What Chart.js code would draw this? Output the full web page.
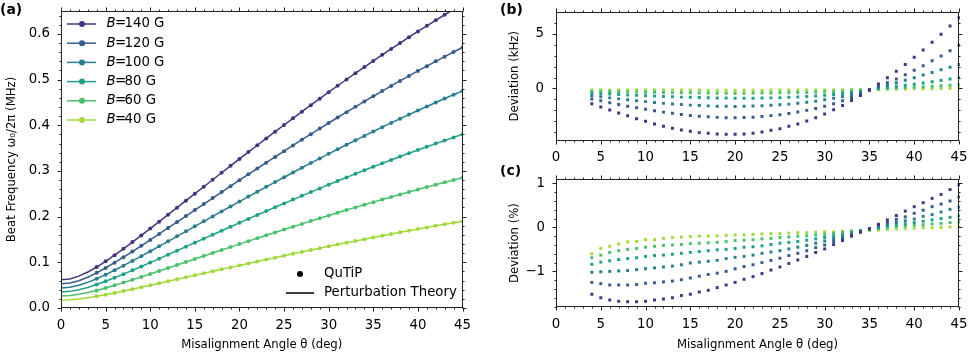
<!DOCTYPE html>
<html>
<head>
<meta charset="utf-8">
<script src="https://cdn.jsdelivr.net/npm/chart.js@4.4.1/dist/chart.umd.min.js"></script>
<style>
  body { margin: 0; background: #fff; width: 969px; height: 354px; position: relative; overflow: hidden; }
  canvas { position: absolute; }
  #chartA { left: 0; top: 0; }
  #chartB { left: 490px; top: 0; }
  #chartC { left: 490px; top: 165px; }
</style>
</head>
<body>
<canvas id="chartA" width="475" height="354"></canvas>
<canvas id="chartB" width="479" height="165"></canvas>
<canvas id="chartC" width="479" height="189"></canvas>
<script>
// field strengths (G), one series each
const fields = [140, 120, 100, 80, 60, 40];
const colors = ['#46337f', '#365c8d', '#277f8e', '#1fa187', '#4ac16d', '#a0da39'];

// angle grid for perturbation theory curves (deg)
const angles = [0,1,2,3,4,5,6,7,8,9,10,11,12,13,14,15,16,17,18,19,20,21,22,23,24,25,26,27,28,29,30,31,32,33,34,35,36,37,38,39,40,41,42,43,44,45];
// angles of the QuTiP points (deg)
const simAngles = [4,5,6,7,8,9,10,11,12,13,14,15,16,17,18,19,20,21,22,23,24,25,26,27,28,29,30,31,32,33,34,35,36,37,38,39,40,41,42,43,44,45];

// beat frequency (MHz), perturbation theory, 0..45 deg
const theory140 = [0.0616,0.0637,0.0697,0.0787,0.0897,0.1022,0.1156,0.1296,0.1442,0.1589,
  0.1739,0.1890,0.2043,0.2195,0.2348,0.2502,0.2654,0.2807,0.2960,0.3111,
  0.3262,0.3413,0.3562,0.3711,0.3858,0.4005,0.4152,0.4297,0.4439,0.4582,
  0.4724,0.4864,0.5001,0.5138,0.5274,0.5407,0.5540,0.5670,0.5799,0.5926,
  0.6052,0.6175,0.6297,0.6418,0.6535,0.6651];
const theory120 = [0.0528,0.0546,0.0598,0.0674,0.0769,0.0876,0.0991,0.1111,0.1236,0.1362,
  0.1490,0.1620,0.1751,0.1882,0.2012,0.2144,0.2275,0.2406,0.2537,0.2666,
  0.2796,0.2926,0.3053,0.3181,0.3307,0.3433,0.3559,0.3683,0.3805,0.3928,
  0.4049,0.4169,0.4286,0.4404,0.4520,0.4634,0.4748,0.4860,0.4970,0.5080,
  0.5188,0.5293,0.5398,0.5501,0.5602,0.5701];
const theory100 = [0.0440,0.0455,0.0498,0.0562,0.0641,0.0730,0.0826,0.0926,0.1030,0.1135,
  0.1242,0.1350,0.1459,0.1568,0.1677,0.1787,0.1896,0.2005,0.2114,0.2222,
  0.2330,0.2438,0.2544,0.2651,0.2756,0.2861,0.2966,0.3069,0.3171,0.3273,
  0.3374,0.3474,0.3572,0.3670,0.3767,0.3862,0.3957,0.4050,0.4142,0.4233,
  0.4323,0.4411,0.4498,0.4584,0.4668,0.4751];
const theory80 = [0.0352,0.0364,0.0398,0.0450,0.0513,0.0584,0.0661,0.0741,0.0824,0.0908,
  0.0994,0.1080,0.1167,0.1254,0.1342,0.1430,0.1517,0.1604,0.1691,0.1778,
  0.1864,0.1950,0.2035,0.2121,0.2205,0.2289,0.2373,0.2455,0.2537,0.2618,
  0.2699,0.2779,0.2858,0.2936,0.3014,0.3090,0.3166,0.3240,0.3314,0.3386,
  0.3458,0.3529,0.3598,0.3667,0.3734,0.3801];
const theory60 = [0.0264,0.0273,0.0299,0.0337,0.0385,0.0438,0.0496,0.0556,0.0618,0.0681,
  0.0745,0.0810,0.0875,0.0941,0.1006,0.1072,0.1138,0.1203,0.1268,0.1333,
  0.1398,0.1463,0.1526,0.1591,0.1654,0.1717,0.1780,0.1841,0.1903,0.1964,
  0.2024,0.2084,0.2143,0.2202,0.2260,0.2317,0.2374,0.2430,0.2485,0.2540,
  0.2594,0.2647,0.2699,0.2750,0.2801,0.2851];
const theory40 = [0.0176,0.0182,0.0199,0.0225,0.0256,0.0292,0.0330,0.0370,0.0412,0.0454,
  0.0497,0.0540,0.0584,0.0627,0.0671,0.0715,0.0758,0.0802,0.0846,0.0889,
  0.0932,0.0975,0.1018,0.1060,0.1102,0.1144,0.1186,0.1228,0.1268,0.1309,
  0.1350,0.1390,0.1429,0.1468,0.1507,0.1545,0.1583,0.1620,0.1657,0.1693,
  0.1729,0.1764,0.1799,0.1834,0.1867,0.1900];

// deviation QuTiP vs theory (kHz), 4..45 deg
const devKHz140 = [-1.39,-1.70,-1.97,-2.24,-2.50,-2.76,
  -3.00,-3.24,-3.45,-3.64,-3.79,-3.91,-4.03,-4.09,-4.15,-4.18,
  -4.18,-4.15,-4.09,-3.97,-3.82,-3.67,-3.45,-3.24,-2.97,-2.67,
  -2.33,-1.94,-1.55,-1.09,-0.64,-0.12,0.42,0.97,1.58,2.18,
  2.85,3.52,4.21,4.94,5.70,6.45];
const devKHz120 = [-0.96,-1.13,-1.30,-1.46,-1.62,-1.76,
  -1.90,-2.03,-2.16,-2.27,-2.37,-2.46,-2.53,-2.59,-2.64,-2.67,
  -2.68,-2.66,-2.62,-2.56,-2.48,-2.39,-2.28,-2.15,-2.00,-1.82,
  -1.62,-1.39,-1.12,-0.82,-0.50,-0.16,0.20,0.52,0.87,1.25,
  1.66,2.08,2.52,2.97,3.44,3.95];
const devKHz100 = [-0.66,-0.76,-0.86,-0.95,-1.04,-1.12,
  -1.20,-1.28,-1.35,-1.41,-1.47,-1.52,-1.56,-1.59,-1.62,-1.63,
  -1.64,-1.63,-1.61,-1.58,-1.54,-1.49,-1.43,-1.35,-1.26,-1.16,
  -1.04,-0.90,-0.74,-0.56,-0.36,-0.14,0.08,0.30,0.52,0.75,
  0.98,1.22,1.46,1.70,1.94,2.19];
const devKHz80 = [-0.43,-0.47,-0.51,-0.55,-0.59,-0.63,
  -0.66,-0.70,-0.73,-0.76,-0.79,-0.81,-0.83,-0.85,-0.87,-0.88,
  -0.89,-0.89,-0.89,-0.88,-0.86,-0.84,-0.81,-0.78,-0.74,-0.69,
  -0.63,-0.55,-0.46,-0.36,-0.25,-0.13,-0.01,0.10,0.20,0.29,
  0.39,0.49,0.61,0.73,0.86,0.99];
const devKHz60 = [-0.27,-0.28,-0.28,-0.29,-0.31,-0.33,
  -0.34,-0.35,-0.36,-0.38,-0.39,-0.40,-0.41,-0.42,-0.43,-0.43,
  -0.43,-0.43,-0.42,-0.42,-0.41,-0.40,-0.39,-0.37,-0.36,-0.34,
  -0.32,-0.29,-0.24,-0.20,-0.16,-0.10,-0.05,-0.01,0.04,0.08,
  0.12,0.16,0.21,0.25,0.30,0.35];
const devKHz40 = [-0.15,-0.14,-0.14,-0.14,-0.14,-0.15,
  -0.15,-0.15,-0.15,-0.15,-0.15,-0.15,-0.15,-0.16,-0.16,-0.16,
  -0.16,-0.16,-0.16,-0.16,-0.15,-0.15,-0.15,-0.15,-0.15,-0.14,
  -0.14,-0.14,-0.13,-0.12,-0.12,-0.11,-0.09,-0.08,-0.07,-0.05,
  -0.03,-0.02,-0.02,0.00,0.02,0.04];

// relative deviation (%), 4..45 deg
const devPct140 = [-1.52,-1.60,-1.65,-1.68,-1.69,-1.69,
  -1.68,-1.65,-1.63,-1.60,-1.55,-1.52,-1.47,-1.43,-1.37,-1.31,
  -1.25,-1.18,-1.12,-1.05,-0.97,-0.90,-0.82,-0.74,-0.66,-0.57,
  -0.49,-0.39,-0.30,-0.20,-0.11,-0.03,0.07,0.17,0.27,0.37,
  0.47,0.56,0.66,0.75,0.86,0.97];
const devPct120 = [-1.25,-1.28,-1.31,-1.31,-1.31,-1.30,
  -1.27,-1.26,-1.24,-1.22,-1.19,-1.15,-1.11,-1.07,-1.04,-1.00,
  -0.94,-0.89,-0.85,-0.80,-0.75,-0.70,-0.64,-0.59,-0.53,-0.46,
  -0.40,-0.32,-0.26,-0.18,-0.10,-0.03,0.05,0.11,0.18,0.24,
  0.32,0.39,0.47,0.53,0.60,0.69];
const devPct100 = [-1.02,-1.01,-1.00,-0.99,-0.98,-0.96,
  -0.94,-0.92,-0.90,-0.88,-0.85,-0.81,-0.79,-0.77,-0.75,-0.71,
  -0.68,-0.66,-0.63,-0.59,-0.56,-0.53,-0.49,-0.45,-0.41,-0.36,
  -0.31,-0.26,-0.21,-0.15,-0.09,-0.04,0.02,0.07,0.11,0.15,
  0.19,0.25,0.29,0.35,0.41,0.46];
const devPct80 = [-0.84,-0.79,-0.76,-0.73,-0.71,-0.69,
  -0.66,-0.64,-0.63,-0.61,-0.59,-0.57,-0.55,-0.53,-0.51,-0.50,
  -0.48,-0.45,-0.44,-0.42,-0.39,-0.36,-0.34,-0.32,-0.29,-0.26,
  -0.23,-0.20,-0.16,-0.12,-0.08,-0.04,-0.01,0.03,0.06,0.08,
  0.11,0.14,0.17,0.20,0.23,0.26];
const devPct60 = [-0.69,-0.63,-0.57,-0.53,-0.50,-0.48,
  -0.45,-0.43,-0.41,-0.40,-0.39,-0.37,-0.36,-0.35,-0.34,-0.32,
  -0.30,-0.29,-0.28,-0.26,-0.25,-0.23,-0.22,-0.20,-0.19,-0.17,
  -0.16,-0.14,-0.11,-0.09,-0.07,-0.04,-0.03,0.00,0.02,0.03,
  0.05,0.06,0.08,0.09,0.11,0.12];
const devPct40 = [-0.60,-0.48,-0.43,-0.38,-0.33,-0.32,
  -0.28,-0.28,-0.25,-0.23,-0.22,-0.21,-0.20,-0.20,-0.19,-0.18,
  -0.17,-0.17,-0.16,-0.15,-0.14,-0.14,-0.13,-0.12,-0.12,-0.11,
  -0.10,-0.10,-0.09,-0.08,-0.08,-0.07,-0.06,-0.05,-0.04,-0.03,
  -0.02,-0.01,-0.01,0.00,0.01,0.02];

const theory = [theory140, theory120, theory100, theory80, theory60, theory40];
const devKHz = [devKHz140, devKHz120, devKHz100, devKHz80, devKHz60, devKHz40];
const devPct = [devPct140, devPct120, devPct100, devPct80, devPct60, devPct40];

const FONT = '"DejaVu Sans", sans-serif';
Chart.defaults.font.family = FONT;
Chart.defaults.color = '#000';

const tickFont = { family: FONT, size: 13.3 };
const titleFont = { family: FONT, size: 11.7 };
const minus = v => (v < 0 ? '\u2212' + Math.abs(v) : String(v));

// frame, outward major/minor ticks on all four sides, panel label, legends
const decor = {
  id: 'decor',
  afterDraw(chart, args, o) {
    const { ctx, chartArea: a } = chart;
    const xs = chart.scales.x, ys = chart.scales.y;
    const L = Math.round(a.left) + 0.5, R = Math.round(a.right) - 0.5;
    const T = Math.round(a.top) + 0.5, B = Math.round(a.bottom) - 0.5;
    const isMajor = (v, step) => Math.abs(v / step - Math.round(v / step)) < 1e-6;
    ctx.save();
    ctx.strokeStyle = '#222';
    ctx.lineWidth = 1;
    ctx.strokeRect(L, T, R - L, B - T);
    ctx.beginPath();
    const x0 = Math.ceil(xs.min / o.xMinor - 1e-9);
    for (let k = x0; k * o.xMinor <= xs.max + 1e-9; k++) {
      const v = k * o.xMinor;
      const len = isMajor(v, o.xMajor) ? 4 : 2;
      const px = Math.round(xs.getPixelForValue(v)) + 0.5;
      ctx.moveTo(px, B); ctx.lineTo(px, B + len);
      ctx.moveTo(px, T); ctx.lineTo(px, T - len);
    }
    const y0 = Math.ceil(ys.min / o.yMinor - 1e-9);
    for (let k = y0; k * o.yMinor <= ys.max + 1e-9; k++) {
      const v = k * o.yMinor;
      const len = isMajor(v, o.yMajor) ? 4 : 2;
      const py = Math.round(ys.getPixelForValue(v)) + 0.5;
      ctx.moveTo(L, py); ctx.lineTo(L - len, py);
      ctx.moveTo(R, py); ctx.lineTo(R + len, py);
    }
    ctx.stroke();

    ctx.fillStyle = '#000';
    ctx.textBaseline = 'middle';
    ctx.textAlign = 'left';
    ctx.font = 'bold 14px ' + FONT;
    ctx.fillText(o.label, o.lx, o.ly);

    if (o.legend) {
      fields.forEach((b, i) => {
        const yy = 24 + i * 19.2;
        ctx.strokeStyle = colors[i];
        ctx.lineWidth = 1.5;
        ctx.beginPath(); ctx.moveTo(67, yy); ctx.lineTo(96, yy); ctx.stroke();
        ctx.fillStyle = colors[i];
        ctx.beginPath(); ctx.arc(82, yy, 3, 0, Math.PI * 2); ctx.fill();
        ctx.fillStyle = '#000';
        ctx.font = 'italic 13.3px ' + FONT;
        ctx.fillText('B', 106.5, yy);
        ctx.font = '13.3px ' + FONT;
        ctx.fillText('=', 115, yy);
        ctx.fillText(b + ' G', 124.5, yy);
      });
      ctx.fillStyle = '#000';
      ctx.beginPath(); ctx.arc(300, 274, 3, 0, Math.PI * 2); ctx.fill();
      ctx.fillText('QuTiP', 324, 274);
      ctx.strokeStyle = '#000';
      ctx.lineWidth = 1.5;
      ctx.beginPath(); ctx.moveTo(286, 293); ctx.lineTo(314, 293); ctx.stroke();
      ctx.fillText('Perturbation Theory', 324, 293);
    }
    ctx.restore();
  }
};

function xAxis(title, h) {
  return {
    type: 'linear', min: 0, max: 45,
    grid: { display: false, drawTicks: false }, border: { display: false },
    ticks: { stepSize: 5, font: tickFont, color: '#000', padding: 9.5, maxRotation: 0, autoSkip: false, includeBounds: false },
    title: title ? { display: true, text: title, font: titleFont, color: '#000', padding: { top: 0, bottom: 2 } } : { display: false },
    afterFit(s) { s.height = h; s.paddingLeft = 0; s.paddingRight = 0; }
  };
}

function yAxis(min, max, step, fmt, title, w, tpad, lpad) {
  return {
    type: 'linear', min: min, max: max,
    grid: { display: false, drawTicks: false }, border: { display: false },
    ticks: { stepSize: step, font: tickFont, color: '#000', padding: lpad, includeBounds: false, callback: fmt },
    title: { display: true, text: title, font: titleFont, color: '#000', padding: { top: tpad, bottom: 0 } },
    afterFit(s) { s.width = w; s.paddingTop = 0; s.paddingBottom = 0; }
  };
}

const baseOpts = {
  responsive: false,
  animation: false,
  events: [],
  plugins: { legend: { display: false }, tooltip: { enabled: false } }
};

// (a) beat frequency
const setsA = [];
fields.forEach((b, i) => {
  setsA.push({
    type: 'scatter', showLine: true,
    data: angles.map((t, k) => ({ x: t, y: theory[i][k] })),
    borderColor: colors[i], borderWidth: 1.5, pointRadius: 0, tension: 0
  });
  setsA.push({
    type: 'scatter',
    data: simAngles.map((t, k) => ({ x: t, y: theory[i][k + 4] })),
    backgroundColor: colors[i], borderWidth: 0, pointRadius: 2
  });
});

new Chart(document.getElementById('chartA'), {
  type: 'scatter',
  data: { datasets: setsA },
  options: Object.assign({}, baseOpts, {
    layout: { padding: { left: 0, top: 11, right: 12.5, bottom: 0 } },
    scales: {
      x: xAxis('Misalignment Angle \u03b8 (deg)', 46),
      y: yAxis(0, 0.65, 0.1, v => v.toFixed(1), 'Beat Frequency \u03c9\u2080/2\u03c0 (MHz)', 61, 4.7, 11)
    },
    plugins: Object.assign({}, baseOpts.plugins, {
      decor: { xMinor: 1, xMajor: 5, yMinor: 0.02, yMajor: 0.1, label: '(a)', lx: 0, ly: 10, legend: true }
    })
  }),
  plugins: [decor]
});

function devSets(series) {
  return fields.map((b, i) => ({
    type: 'scatter',
    data: simAngles.map((t, k) => ({ x: t, y: series[i][k] })),
    backgroundColor: colors[i], borderWidth: 0, pointStyle: 'rect', pointRadius: 2.1, clip: 1
  }));
}

// (b) deviation in kHz
new Chart(document.getElementById('chartB'), {
  type: 'scatter',
  data: { datasets: devSets(devKHz) },
  options: Object.assign({}, baseOpts, {
    layout: { padding: { left: 0, top: 12, right: 10, bottom: 0 } },
    scales: {
      x: xAxis(null, 24.5),
      y: yAxis(-4.75, 6.98, 5, minus, 'Deviation (kHz)', 66, 18, 12)
    },
    plugins: Object.assign({}, baseOpts.plugins, {
      decor: { xMinor: 1, xMajor: 5, yMinor: 1, yMajor: 5, label: '(b)', lx: 10, ly: 10 }
    })
  }),
  plugins: [decor]
});

// (c) deviation in percent
new Chart(document.getElementById('chartC'), {
  type: 'scatter',
  data: { datasets: devSets(devPct) },
  options: Object.assign({}, baseOpts, {
    layout: { padding: { left: 0, top: 14, right: 10, bottom: 0 } },
    scales: {
      x: xAxis('Misalignment Angle \u03b8 (deg)', 47),
      y: yAxis(-1.81, 1.10, 1, minus, 'Deviation (%)', 66, 18, 11)
    },
    plugins: Object.assign({}, baseOpts.plugins, {
      decor: { xMinor: 1, xMajor: 5, yMinor: 0.2, yMajor: 1, label: '(c)', lx: 10, ly: 6 }
    })
  }),
  plugins: [decor]
});
</script>
</body>
</html>
